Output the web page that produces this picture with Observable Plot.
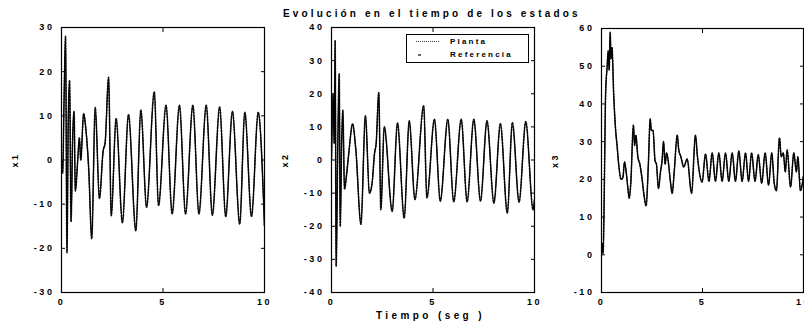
<!DOCTYPE html>
<html>
<head>
<meta charset="utf-8">
<script src="https://cdn.jsdelivr.net/npm/d3@7"></script>
<script src="https://cdn.jsdelivr.net/npm/@observablehq/plot@0.6"></script>
<style>
  body { margin: 0; background: #fff; }
  #wrap { position: relative; width: 804px; height: 329px; overflow: hidden;
          font-family: "Liberation Sans", Arial, sans-serif; font-weight: bold; color: #000; }
  .panel { position: absolute; top: 0; }
  #title { position: absolute; top: 9px; left: 283px; white-space: nowrap;
           font-size: 10px; line-height: 1; letter-spacing: 3.15px; }
  #xlabel { position: absolute; top: 311px; left: 376px; white-space: nowrap;
            font-size: 10px; line-height: 1; letter-spacing: 3.4px; }
  #legend { position: absolute; left: 406px; top: 34px; width: 121px; height: 27px;
            border: 1px solid #000; background: #fff; font-size: 8px; letter-spacing: 2.2px; }
  #legend .row { position: absolute; left: 0; width: 100%; height: 10px; }
  #legend .txt { position: absolute; left: 43px; top: 0; line-height: 10px; }
  #legend svg { position: absolute; left: 8px; top: 0; }
</style>
</head>
<body>
<div id="wrap">
  <div id="title">Evolución en el tiempo de los estados</div>
  <div id="xlabel">Tiempo (seg )</div>
</div>
<script>
// ---- tick values ----
const timeTicks = [0, 5, 10];
const x1Ticks = [-30, -20, -10, 0, 10, 20, 30];
const x2Ticks = [-40, -30, -20, -10, 0, 10, 20, 30, 40];
const x3Ticks = [-10, 0, 10, 20, 30, 40, 50, 60];

// ---- series names ----
const seriesNames = ["Planta", "Referencia"];

// ---- x1 ----
const x1Time = [0, 0.06, 0.12, 0.2, 0.27, 0.33, 0.4, 0.47, 0.55, 0.62, 0.68, 0.8, 0.88, 0.95,
  1.09, 1.2, 1.34, 1.49, 1.66, 1.87, 2.05, 2.15, 2.32, 2.45, 2.69, 3.0, 3.3, 3.66, 3.91, 4.19,
  4.57, 4.78, 5.15, 5.45, 5.81, 6.11, 6.47, 6.77, 7.13, 7.43, 7.79, 8.09, 8.42, 8.78, 9.03,
  9.36, 9.69, 10.0];
const x1Ref = [0, -3, 12, 28, -21, 8, 18, -14, 5, 11, -7, 0, 5, 0,
  10.5, 7, -2, -17.8, 11.9, -8.7, 2, 4, 18.7, -12.6, 9.4, -14.2, 10.3, -16, 11.3, -10.7,
  15.4, -10.3, 12.4, -12.2, 12.4, -12.2, 12.4, -12.2, 12.4, -12.5, 12, -12.8, 11, -14.5, 10.8,
  -12.8, 10.8, -15];
const x1Plant = x1Ref;

// ---- x2 ----
const x2Time = [0, 0.08, 0.13, 0.18, 0.23, 0.3, 0.38, 0.43, 0.5, 0.56, 0.64, 0.75, 0.85,
  1.04, 1.2, 1.45, 1.67, 1.87, 2.0, 2.12, 2.2, 2.33, 2.43, 2.6, 2.99, 3.25, 3.58, 3.83, 4.11,
  4.54, 4.7, 5.07, 5.36, 5.73, 6.02, 6.39, 6.68, 7.01, 7.34, 7.66, 8.0, 8.32, 8.66, 8.91,
  9.24, 9.57, 9.93, 10.0];
const x2Ref = [0, 20, 5, 36, -32, 0, 26, -20, 5, 15, -8.8, -4, 2,
  10.9, 3, -19.4, 13.3, -10, -7, 2, 5, 20.4, -15, 10, -15.5, 11.2, -17.5, 11.8, -11.9,
  16.4, -11.4, 12.3, -12.4, 12.3, -12.6, 12.3, -12.6, 12.3, -12.4, 11.8, -13, 11, -16, 11.3,
  -12.7, 11.6, -15, -12];
const x2Plant = x2Ref;

// ---- x3 ----
const x3Time = [0, 0.04, 0.08, 0.12, 0.2, 0.28, 0.33, 0.38, 0.43, 0.47, 0.52, 0.6, 0.7, 0.77,
  0.85, 0.97, 1.06, 1.14, 1.22, 1.3, 1.37, 1.45, 1.58, 1.64, 1.7, 1.8, 1.9, 2.0, 2.1, 2.21,
  2.32, 2.41, 2.47, 2.55, 2.65, 2.72, 2.82, 2.92, 3.0, 3.07, 3.15, 3.22, 3.3, 3.4, 3.5, 3.6,
  3.75, 3.82, 3.93, 4.07, 4.24, 4.46, 4.65, 4.75, 4.98, 5.15, 5.32, 5.48, 5.64, 5.81, 5.97,
  6.14, 6.3, 6.47, 6.63, 6.8, 6.96, 7.13, 7.28, 7.43, 7.6, 7.76, 7.93, 8.1, 8.27, 8.43, 8.55,
  8.66, 8.81, 8.9, 9.0, 9.1, 9.19, 9.36, 9.52, 9.65, 9.72, 9.85, 10.0];
const x3Ref = [0, 3, 0.5, 10, 42, 50, 54, 49, 59, 52, 55, 43, 33, 29,
  24, 20, 20.5, 24.6, 22, 18, 15, 19, 34.4, 29, 31.7, 26, 24, 20.5, 16, 13,
  24, 36, 33, 33, 25, 24, 17.6, 22, 25, 30, 24, 27, 25, 20, 16.3, 22,
  31.7, 28, 26, 23.3, 25.4, 16.3, 31.7, 26, 19.3, 26.7, 19.5, 27, 19.5, 27, 19.5,
  27, 19.5, 27, 19.5, 27.5, 19.5, 27, 19.5, 27, 19.5, 26.5, 19, 27, 18.5, 27, 19,
  17, 31, 26, 27, 22, 27.8, 18, 27, 22, 26, 17, 21];
const x3Plant = x3Ref;

const axisStyle = {
  fontFamily: '"Liberation Sans", Arial, sans-serif',
  fontSize: "9px",
  fontWeight: "bold",
  letterSpacing: "2.6px",
  background: "transparent",
  color: "#000",
  overflow: "visible"
};

function rows(time, values) {
  return time.map((t, i) => ({ t, v: values[i] }));
}

function panel({ time, ref, plant, yDomain, yTicks, label, width, marginRight, marginTop }) {
  return Plot.plot({
    width, height: 329,
    marginLeft: 61, marginRight, marginTop, marginBottom: 37,
    x: { domain: [0, 10] },
    y: { domain: yDomain },
    style: axisStyle,
    marks: [
      Plot.axisX({ ticks: timeTicks, tickSize: -4, tickPadding: 10, tickFormat: d => String(d), label: null }),
      Plot.axisX({ anchor: "top", ticks: timeTicks, tickSize: -4, tickFormat: () => "", label: null }),
      Plot.axisY({ ticks: yTicks, tickSize: -4, tickPadding: 11, tickFormat: d => String(d),
                   label, labelAnchor: "center", labelOffset: 50, labelArrow: "none" }),
      Plot.axisY({ anchor: "right", ticks: yTicks, tickSize: -4, tickFormat: () => "", label: null }),
      Plot.line(rows(time, plant), { x: "t", y: "v", curve: "monotone-x", stroke: "#222", strokeWidth: 1.6,
                                     strokeDasharray: "1.5,1.5", clip: true }),
      Plot.line(rows(time, ref), { x: "t", y: "v", curve: "monotone-x", stroke: "#000", strokeWidth: 1.1, clip: true }),
      Plot.frame({ stroke: "#000", strokeWidth: 1.2 })
    ]
  });
}

const wrap = document.getElementById("wrap");
const configs = [
  { left: 0,   time: x1Time, ref: x1Ref, plant: x1Plant, yDomain: [-30, 30], yTicks: x1Ticks, label: "x1", width: 270, marginRight: 6, marginTop: 27 },
  { left: 270, time: x2Time, ref: x2Ref, plant: x2Plant, yDomain: [-40, 40], yTicks: x2Ticks, label: "x2", width: 270, marginRight: 6, marginTop: 27 },
  { left: 540, time: x3Time, ref: x3Ref, plant: x3Plant, yDomain: [-10, 60], yTicks: x3Ticks, label: "x3", width: 264, marginRight: 1, marginTop: 28 }
];
for (const c of configs) {
  const svg = panel(c);
  svg.classList.add("panel");
  svg.style.left = c.left + "px";
  wrap.insertBefore(svg, wrap.firstChild);
}

// legend (inside the middle panel)
const legend = document.createElement("div");
legend.id = "legend";
legend.innerHTML =
  `<div class="row" style="top:2px"><svg width="26" height="10"><line x1="1" x2="24" y1="4.5" y2="4.5" stroke="#444" stroke-width="1" stroke-dasharray="1,1"/></svg><span class="txt">${seriesNames[0]}</span></div>` +
  `<div class="row" style="top:15px"><svg width="26" height="10"><line x1="3" x2="6" y1="5" y2="5" stroke="#000" stroke-width="1.2"/></svg><span class="txt">${seriesNames[1]}</span></div>`;
wrap.appendChild(legend);
</script>
</body>
</html>
